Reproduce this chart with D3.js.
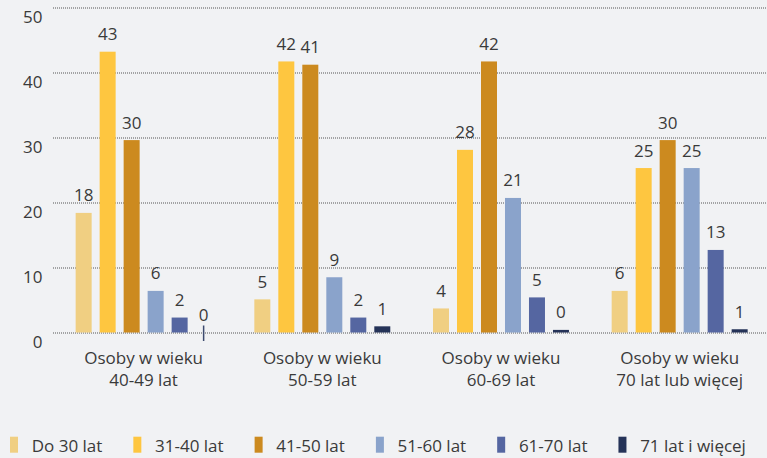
<!DOCTYPE html>
<html>
<head>
<meta charset="utf-8">
<script src="https://cdn.jsdelivr.net/npm/d3@7"></script>
<style>
  html, body { margin: 0; padding: 0; background: #f1f2f4; }
  svg { display: block; font-family: "Open Sans", "Liberation Sans", sans-serif; }
</style>
</head>
<body>
<svg id="chart" width="767" height="458"></svg>
<script>
// categories (two-line labels)
const groups = ['g1', 'g2', 'g3', 'g4']
const groupLabels = [
  ['Osoby w wieku', '40-49 lat'],
  ['Osoby w wieku', '50-59 lat'],
  ['Osoby w wieku', '60-69 lat'],
  ['Osoby w wieku', '70 lat lub więcej']
]
const series = ['Do 30 lat', '31-40 lat', '41-50 lat', '51-60 lat', '61-70 lat', '71 lat i więcej']
const colors = ['#f0cf82', '#fec640', '#cc8a1f', '#8aa3cb', '#5566a1', '#253358']

// values per age bracket, in order of the groups
const do30 = [18.4, 5.1, 3.7, 6.4]
const s31_40 = [43.2, 41.7, 28.1, 25.3]
const s41_50 = [29.6, 41.2, 41.7, 29.6]
const s51_60 = [6.4, 8.5, 20.7, 25.3]
const s61_70 = [2.3, 2.3, 5.4, 12.7]
const s71 = [0, 0.95, 0.4, 0.5]
const values = [do30, s31_40, s41_50, s51_60, s61_70, s71]

const yTicks = [0, 10, 20, 30, 40, 50]

const svg = d3.select('#chart')

// scales
const x0 = d3.scaleBand().domain(groups).range([54.3, 769]).paddingInner(0.239).paddingOuter(0.1195)
const x1 = d3.scaleBand().domain(series).range([0, x0.bandwidth()]).paddingInner(1 / 3)
const y = d3.scaleLinear().domain([0, 50]).range([332.5, 7.5])

// grid
const grid = svg.append('g')
grid.selectAll('line')
  .data(yTicks)
  .join('line')
  .attr('x1', 53).attr('x2', 767)
  .attr('y1', d => y(d) + 0.5).attr('y2', d => y(d) + 0.5)
  .attr('stroke', '#555')
  .attr('stroke-width', 1)
  .attr('stroke-dasharray', '1,1')

grid.selectAll('text')
  .data(yTicks)
  .join('text')
  .attr('x', 42.5)
  .attr('y', d => y(d) + 9)
  .attr('text-anchor', 'end')
  .attr('dominant-baseline', 'central')
  .attr('fill', '#3a3a3a')
  .attr('font-size', 17)
  .text(d => d)

// bars
const rows = []
groups.forEach((g, gi) => {
  series.forEach((s, si) => {
    rows.push({ g: g, s: s, si: si, v: values[si][gi] })
  })
})

const bars = svg.append('g')
bars.selectAll('rect')
  .data(rows.filter(d => d.v > 0))
  .join('rect')
  .attr('x', d => x0(d.g) + x1(d.s))
  .attr('y', d => y(d.v))
  .attr('width', x1.bandwidth())
  .attr('height', d => y(0) - y(d.v))
  .attr('fill', d => colors[d.si])

// zero markers
bars.selectAll('line')
  .data(rows.filter(d => d.v === 0))
  .join('line')
  .attr('x1', d => x0(d.g) + x1(d.s) + x1.bandwidth() / 2)
  .attr('x2', d => x0(d.g) + x1(d.s) + x1.bandwidth() / 2)
  .attr('y1', y(0) - 7)
  .attr('y2', y(0) + 8.5)
  .attr('stroke', '#3c4a6e')
  .attr('stroke-width', 1.5)

// value labels
bars.selectAll('text')
  .data(rows)
  .join('text')
  .attr('x', d => x0(d.g) + x1(d.s) + x1.bandwidth() / 2)
  .attr('y', d => y(d.v) - 18)
  .attr('text-anchor', 'middle')
  .attr('dominant-baseline', 'central')
  .attr('fill', '#3a3a3a')
  .attr('font-size', 17)
  .text(d => Math.round(d.v))

// category labels
const cat = svg.append('g')
groups.forEach((g, gi) => {
  const t = cat.append('text')
    .attr('x', x0(g) + x0.bandwidth() / 2)
    .attr('y', 358)
    .attr('text-anchor', 'middle')
    .attr('fill', '#3a3a3a')
    .attr('font-size', 17)
  groupLabels[gi].forEach((line, li) => {
    t.append('tspan')
      .attr('x', x0(g) + x0.bandwidth() / 2)
      .attr('dy', li === 0 ? '0.35em' : 22)
      .text(line)
  })
})

// legend
const legend = svg.append('g')
let lx = 10
series.forEach((s, i) => {
  legend.append('rect')
    .attr('x', lx).attr('y', 436.7)
    .attr('width', 8).attr('height', 16)
    .attr('fill', colors[i])
  const t = legend.append('text')
    .attr('x', lx + 21.7)
    .attr('y', 451.5)
    .attr('fill', '#3a3a3a')
    .attr('font-size', 17)
    .text(s)
  lx += 21.7 + t.node().getComputedTextLength() + 31
})
</script>
</body>
</html>
